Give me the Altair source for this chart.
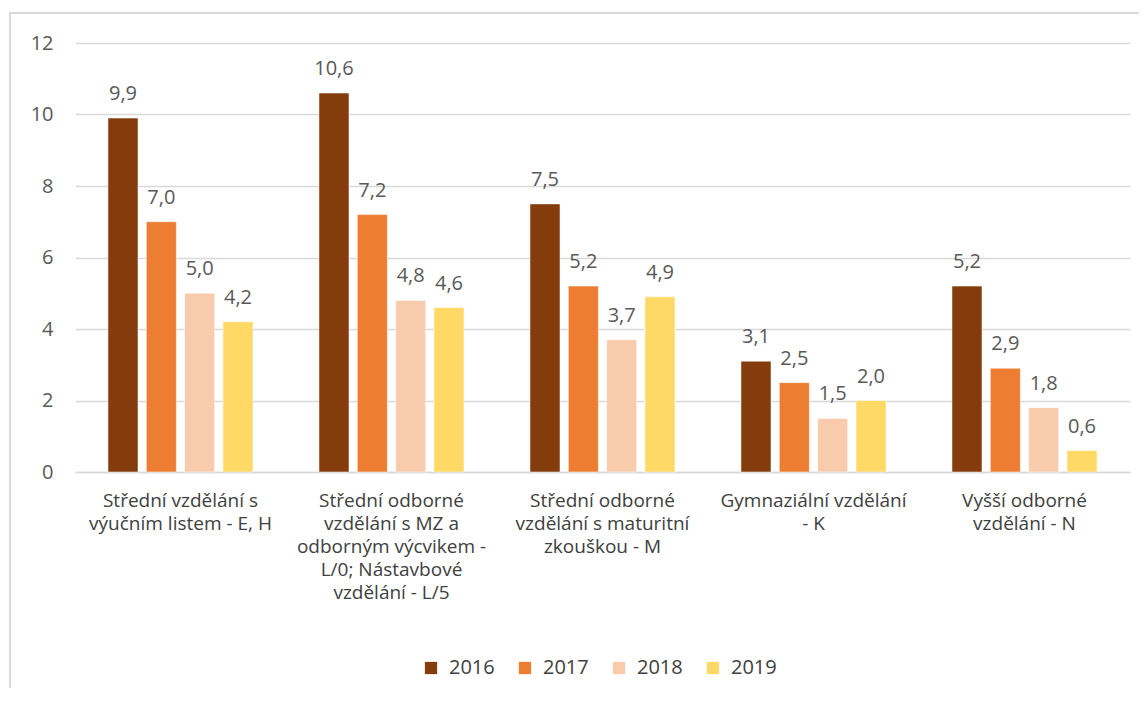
import altair as alt
import pandas as pd

categories = [
    "Střední vzdělání s|výučním listem - E, H",
    "Střední odborné|vzdělání s MZ a|odborným výcvikem -|L/0; Nástavbové|vzdělání - L/5",
    "Střední odborné|vzdělání s maturitní|zkouškou - M",
    "Gymnaziální vzdělání|- K",
    "Vyšší odborné|vzdělání - N",
]
years = ["2016", "2017", "2018", "2019"]
v2016 = [9.9, 10.6, 7.5, 3.1, 5.2]
v2017 = [7.0, 7.2, 5.2, 2.5, 2.9]
v2018 = [5.0, 4.8, 3.7, 1.5, 1.8]
v2019 = [4.2, 4.6, 4.9, 2.0, 0.6]
colors = ["#843C0C", "#ED7D31", "#F8CBAD", "#FFD966"]

rows = []
for y, vals in zip(years, [v2016, v2017, v2018, v2019]):
    for c, v in zip(categories, vals):
        rows.append({"cat": c, "year": y, "value": v})
df = pd.DataFrame(rows)

FONT = "Open Sans"
FS = 20

x = alt.X("cat:N", sort=categories, title=None,
          scale=alt.Scale(paddingInner=0, paddingOuter=0),
          axis=alt.Axis(labelAngle=0, labelExpr="split(datum.label, '|')",
                        labelFontSize=19, labelLineHeight=23, labelColor="#404040",
                        labelFont=FONT, labelPadding=19, ticks=False,
                        domainColor="#D9D9D9", domainWidth=1.5, labelLimit=300))
xo = alt.XOffset("year:N", sort=years,
                 scale=alt.Scale(paddingInner=0.217, paddingOuter=0.86))
y = alt.Y("value:Q", title=None,
          scale=alt.Scale(domain=[0, 12]),
          axis=alt.Axis(values=[0, 2, 4, 6, 8, 10, 12], labelFontSize=FS, labelColor="#595959",
                        labelFont=FONT, labelPadding=22, ticks=False, domain=False,
                        gridColor="#D9D9D9", gridWidth=1.5))

bars = alt.Chart(df).mark_bar(stroke="white", strokeWidth=0.5).encode(
    x=x, xOffset=xo, y=y,
    color=alt.Color("year:N", sort=years,
                    scale=alt.Scale(domain=years, range=colors),
                    legend=alt.Legend(title=None, orient="none", legendX=346, legendY=615,
                                      direction="horizontal", symbolType="square",
                                      symbolSize=150, symbolStrokeWidth=0,
                                      labelFontSize=FS, labelFont=FONT, labelColor="#404040",
                                      labelOffset=8, columnPadding=20)),
)

text = alt.Chart(df).transform_calculate(
    label="replace(format(datum.value, '.1f'), '.', ',')"
).mark_text(baseline="alphabetic", dy=-18, fontSize=FS, font=FONT, color="#595959").encode(
    x=x, xOffset=xo, y=y, text="label:N"
)

border = alt.Chart(pd.DataFrame({"a": [0]})).mark_rect(
    fill=None, stroke="#D9D9D9", strokeWidth=2
).encode(x=alt.value(-65), x2=alt.value(1150), y=alt.value(-30), y2=alt.value(700))

chart = alt.layer(border, bars, text).properties(
    width=1055, height=429,
    autosize=alt.AutoSizeParams(type="none"),
    padding={"left": 67, "top": 35, "right": 9, "bottom": 216},
).configure_view(stroke=None)

chart.save("out.html", embed_options={"renderer": "svg", "actions": False})
